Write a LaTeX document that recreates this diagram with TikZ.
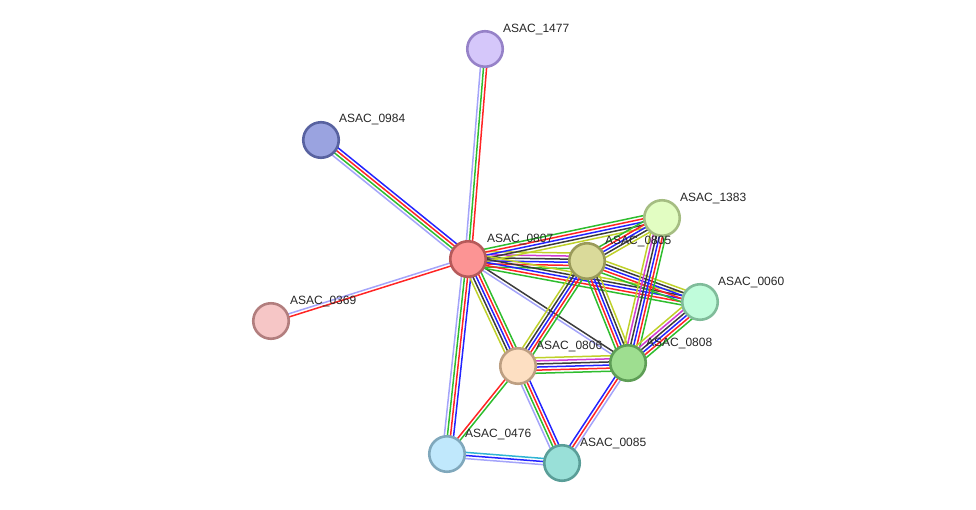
\documentclass[tikz,border=0pt]{standalone}
\usepackage{fontspec}
\setmainfont{Liberation Sans}
\usetikzlibrary{calc}
\pgfdeclarelayer{bg}
\pgfsetlayers{bg,main}
\definecolor{eg}{HTML}{2EBD2E}
\definecolor{er}{HTML}{FF2424}
\definecolor{eb}{HTML}{2424FF}
\definecolor{ek}{HTML}{3C3C3C}
\definecolor{ey}{HTML}{BFD12A}
\definecolor{em}{HTML}{D03CD0}
\definecolor{el}{HTML}{A4A4FA}
\definecolor{ec}{HTML}{2FB4D4}
\newcommand\bund[4]{%
  \foreach \c [count=\i] in {#4} {
    \pgfmathsetmacro\off{(\i-(#3+1)/2)*3.1}
    \draw[\c, line width=1.5pt] ($(#1)!\off pt!90:(#2)$) -- ($(#2)!\off pt!-90:(#1)$);
  }}
\tikzset{
  prot/.style={circle, minimum size=35.5pt, inner sep=0pt, line width=2.6pt},
  lab/.style={font=\fontsize{12}{14}\selectfont, anchor=base west, inner sep=0pt, text=black!85}
}
\begin{document}
\begin{tikzpicture}[x=1pt,y=-1pt]
\useasboundingbox (0,0) rectangle (976,509);
\node[prot, fill={rgb,255:red,213;green,199;blue,250}, draw={rgb,255:red,150;green,130;blue,200}] (n1477) at (485,49) {};
\node[prot, fill={rgb,255:red,154;green,163;blue,224}, draw={rgb,255:red,88;green,98;blue,160}] (n0984) at (321,140) {};
\node[prot, fill={rgb,255:red,252;green,148;blue,148}, draw={rgb,255:red,182;green,90;blue,90}] (n0807) at (468,259) {};
\node[prot, fill={rgb,255:red,246;green,198;blue,198}, draw={rgb,255:red,178;green,126;blue,126}] (n0369) at (271,321) {};
\node[prot, fill={rgb,255:red,226;green,253;blue,194}, draw={rgb,255:red,165;green,189;blue,130}] (n1383) at (662,218) {};
\node[prot, fill={rgb,255:red,218;green,218;blue,154}, draw={rgb,255:red,154;green,154;blue,90}] (n0805) at (587,261) {};
\node[prot, fill={rgb,255:red,192;green,252;blue,219}, draw={rgb,255:red,128;green,188;blue,154}] (n0060) at (700,302) {};
\node[prot, fill={rgb,255:red,253;green,223;blue,194}, draw={rgb,255:red,189;green,159;blue,130}] (n0806) at (518,366) {};
\node[prot, fill={rgb,255:red,158;green,222;blue,144}, draw={rgb,255:red,94;green,158;blue,86}] (n0808) at (628,363) {};
\node[prot, fill={rgb,255:red,192;green,232;blue,252}, draw={rgb,255:red,128;green,168;blue,188}] (n0476) at (447,454) {};
\node[prot, fill={rgb,255:red,153;green,224;blue,216}, draw={rgb,255:red,90;green,158;blue,152}] (n0085) at (562,463) {};
\begin{pgfonlayer}{bg}
\bund{n0807}{n1477}{3}{er,eg,el}
\bund{n0807}{n0984}{4}{eb,er,eg,el}
\bund{n0807}{n0369}{2}{el,er}
\bund{n0807}{n0476}{4}{el,eg,er,eb}
\bund{n0807}{n0806}{5}{ey,ek,eb,er,eg}
\bund{n0807}{n0808}{2}{el,ek}
\bund{n0807}{n0805}{6}{eg,er,eb,ek,em,ey}
\bund{n0807}{n1383}{5}{ey,ek,eb,er,eg}
\bund{n0807}{n0060}{5}{eg,er,eb,ek,ey}
\bund{n0805}{n1383}{5}{ey,ek,eb,er,eg}
\bund{n0805}{n0060}{5}{eg,er,eb,ek,ey}
\bund{n0805}{n0808}{5}{eg,er,eb,ek,ey}
\bund{n0805}{n0806}{5}{ey,ek,eb,er,eg}
\bund{n1383}{n0808}{6}{ey,em,ek,eb,er,eg}
\bund{n0060}{n0808}{6}{ey,em,ek,eb,er,eg}
\bund{n0806}{n0808}{6}{eg,er,eb,ek,em,ey}
\bund{n0806}{n0476}{2}{er,eg}
\bund{n0806}{n0085}{4}{el,eg,er,eb}
\bund{n0808}{n0085}{3}{eb,er,el}
\bund{n0476}{n0085}{3}{el,eb,ec}
\end{pgfonlayer}
\node[lab] (l1477) at (503,32) {ASAC\_1477};
\node[lab] (l0984) at (339,122) {ASAC\_0984};
\node[lab] (l0807) at (487,242) {ASAC\_0807};
\node[lab] (l0369) at (290,304) {ASAC\_0369};
\node[lab] (l1383) at (680,201) {ASAC\_1383};
\node[lab] (l0805) at (605,244) {ASAC\_0805};
\node[lab] (l0060) at (718,285) {ASAC\_0060};
\node[lab] (l0806) at (536,349) {ASAC\_0806};
\node[lab] (l0808) at (646,346) {ASAC\_0808};
\node[lab] (l0476) at (465,437) {ASAC\_0476};
\node[lab] (l0085) at (580,446) {ASAC\_0085};
\end{tikzpicture}
\end{document}
